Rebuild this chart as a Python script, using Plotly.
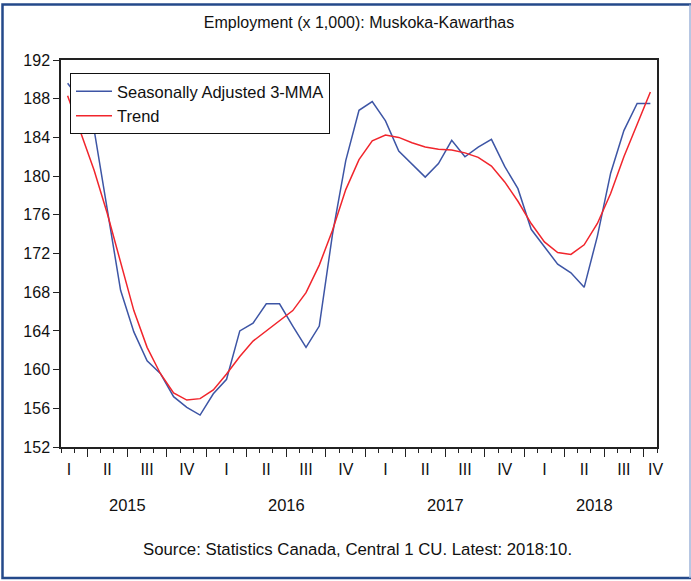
import plotly.graph_objects as go

# Monthly observations, 2015:02 .. 2018:10
start_year, start_month = 2015, 2
sa_3mma = [189.6, 187.8, 184.8, 176.5, 168.2, 163.9, 160.9, 159.6, 157.2, 156.1,
           155.3, 157.5, 159.0, 164.0, 164.8, 166.8, 166.8, 164.5, 162.3, 164.5,
           174.0, 181.6, 186.8, 187.7, 185.7, 182.6, 181.3, 179.9, 181.3, 183.7,
           182.0, 183.0, 183.8, 181.0, 178.7, 174.5, 172.7, 170.9, 170.0, 168.5,
           173.8, 180.3, 184.7, 187.5, 187.5]
trend = [188.3, 184.4, 180.6, 176.1, 171.2, 166.1, 162.3, 159.6, 157.6, 156.85,
         157.0, 157.9, 159.55, 161.35, 162.95, 164.0, 165.0, 166.1, 167.95, 170.8,
         174.4, 178.6, 181.7, 183.65, 184.25, 184.0, 183.45, 183.0, 182.77, 182.7,
         182.4, 181.94, 181.04, 179.4, 177.4, 175.1, 173.2, 172.1, 171.9, 172.9,
         175.1, 178.2, 182.0, 185.45, 188.7]
quarter_labels = ["I", "II", "III", "IV"]
years = [2015, 2016, 2017, 2018]
y_ticks = list(range(152, 193, 4))

n = len(sa_3mma)
x_idx = list(range(n))
month_names = [f"{start_year + (start_month - 1 + i) // 12}:{(start_month - 1 + i) % 12 + 1:02d}" for i in x_idx]

# index of January 2015 relative to first obs
jan_offset = -(start_month - 1)
x_range = [-0.5, n - 0.5]
month_bounds = [i - 0.5 for i in range(n + 1)]
quarter_bounds = [jan_offset + 3 * k - 0.5 for k in range(1, 16) if x_range[0] < jan_offset + 3 * k - 0.5 < x_range[1]]
quarter_centers = [jan_offset + 3 * k + 1 for k in range(16)]
quarter_centers = [min(max(c, 0.1), n - 0.6) for c in quarter_centers]
quarter_text = [quarter_labels[k % 4] for k in range(16)]
year_pos = [jan_offset + 12 * j + 5.5 for j in range(len(years))]
year_pos[-1] = (jan_offset + 36 - 0.5 + n - 0.5) / 2 + 0.3

BLUE = "#3D55A5"
RED = "#F1252C"
FONT = "Liberation Sans, Arial, sans-serif"
TXT = "#111111"

fig = go.Figure()
fig.add_trace(go.Scatter(x=x_idx, y=sa_3mma, mode="lines", name="Seasonally Adjusted 3-MMA",
                         line=dict(color=BLUE, width=1.5), text=month_names,
                         hovertemplate="%{text}: %{y}<extra></extra>"))
fig.add_trace(go.Scatter(x=x_idx, y=trend, mode="lines", name="Trend",
                         line=dict(color=RED, width=1.5), text=month_names,
                         hovertemplate="%{text}: %{y}<extra></extra>"))
# invisible trace on overlay axis for quarter labels
fig.add_trace(go.Scatter(x=[x_range[0]], y=[152], xaxis="x2", mode="markers",
                         marker=dict(opacity=0), showlegend=False, hoverinfo="skip"))

fig.update_layout(
    width=691, height=581,
    margin=dict(l=61, r=34, t=60, b=134),
    paper_bgcolor="white", plot_bgcolor="white",
    font=dict(family=FONT, size=16, color=TXT),
    title=dict(text="Employment (x 1,000): Muskoka-Kawarthas", x=0.5, xref="paper",
               xanchor="center", y=1 - 22 / 581, yref="container", yanchor="middle",
               font=dict(size=16, color=TXT)),
    showlegend=True,
    legend=dict(x=(70 - 61) / 596, y=(447 - 73) / 387, xanchor="left", yanchor="top",
                bordercolor=TXT, borderwidth=1, bgcolor="white", itemwidth=36,
                font=dict(size=16.5, color=TXT), tracegroupgap=0),
    xaxis=dict(range=x_range, showgrid=False, zeroline=False, showline=True,
               linecolor="#222222", linewidth=1.5, mirror=True,
               tickmode="array", tickvals=quarter_bounds, ticks="outside", ticklen=8,
               tickwidth=1.2, tickcolor="#222222", showticklabels=False,
               minor=dict(tickmode="array", tickvals=month_bounds, ticks="outside",
                          ticklen=4, tickwidth=1, tickcolor="#222222", showgrid=False)),
    xaxis2=dict(range=x_range, overlaying="x", side="bottom", showgrid=False,
                zeroline=False, showline=False, tickmode="array",
                tickvals=quarter_centers, ticktext=quarter_text, ticks="",
                ticklabelstandoff=11, tickfont=dict(size=16, color=TXT)),
    yaxis=dict(range=[152, 192], showgrid=False, zeroline=False, showline=True,
               linecolor="#222222", linewidth=1.5, mirror=True,
               tickmode="array", tickvals=y_ticks, ticks="outside", ticklen=6,
               tickwidth=1.2, tickcolor="#222222", tickfont=dict(size=16, color=TXT)),
)

for yr, xp in zip(years, year_pos):
    fig.add_annotation(x=xp, y=(447 - 505) / 387, xref="x", yref="paper", text=str(yr),
                       showarrow=False, font=dict(size=16.5, color=TXT),
                       xanchor="center", yanchor="middle")

fig.add_annotation(x=(357 - 61) / 596, y=(447 - 549) / 387, xref="paper", yref="paper",
                   text="Source: Statistics Canada, Central 1 CU. Latest: 2018:10.",
                   showarrow=False, font=dict(size=16.8, color=TXT),
                   xanchor="center", yanchor="middle")

# outer frame
def px_x(p):
    return (p - 61) / 596

def px_y(p):
    return (447 - p) / 387

fig.add_shape(type="rect", xref="paper", yref="paper", x0=px_x(2.5), x1=px_x(700),
              y0=px_y(578), y1=px_y(4.5), line=dict(color="#24498A", width=2.5),
              fillcolor="rgba(0,0,0,0)", layer="above")
fig.add_shape(type="line", xref="paper", yref="paper", x0=px_x(690), x1=px_x(690),
              y0=px_y(578), y1=px_y(4.5), line=dict(color="#9FB4DA", width=1.5),
              layer="above")

fig.write_html("out.html", config={"displayModeBar": False},
               post_script="document.body.style.margin='0px';")
